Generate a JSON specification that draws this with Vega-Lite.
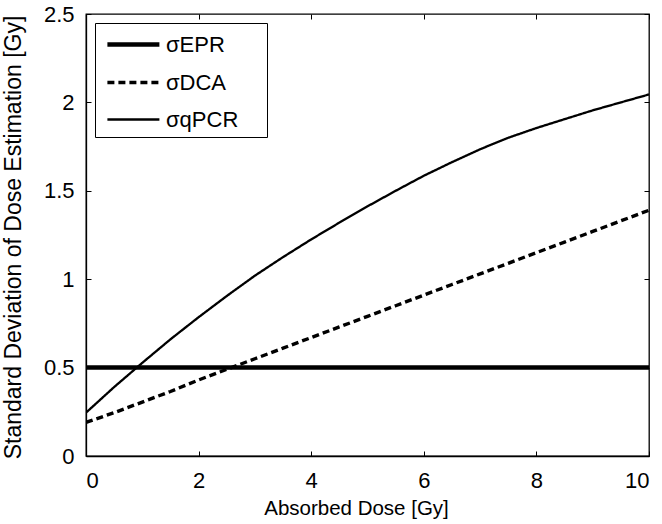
{
  "$schema": "https://vega.github.io/schema/vega-lite/v6.json",
  "width": 563,
  "height": 442,
  "autosize": {"type": "none"},
  "padding": {"left": 86, "top": 14, "right": 13, "bottom": 68},
  "background": "white",
  "config": {
    "font": "Liberation Sans",
    "view": {"stroke": "black", "strokeWidth": 1.3},
    "axis": {
      "grid": false,
      "domainColor": "black",
      "domainWidth": 1.3,
      "tickColor": "black",
      "tickWidth": 1,
      "tickSize": -5,
      "labelColor": "black",
      "labelFont": "Liberation Sans",
      "labelFontSize": 22,
      "titleColor": "black",
      "titleFont": "Liberation Sans",
      "titleFontWeight": "normal"
    },
    "legend": {
      "orient": "top-left",
      "offset": 9,
      "padding": 6,
      "strokeColor": "black",
      "fillColor": "white",
      "symbolType": "M-0.7,0H3.3",
      "symbolSize": 676,
      "symbolStrokeColor": "black",
      "labelFont": "Liberation Sans",
      "labelFontSize": 22,
      "labelColor": "black",
      "labelOffset": 34,
      "rowPadding": 11.5,
      "titleOrient": "right",
      "titleColor": "white",
      "titleFontSize": 16,
      "titleFontWeight": "normal",
      "titlePadding": 5
    }
  },
  "data": {
    "values": [
      {"series": "EPR", "dose": 0, "sd": 0.5},
      {"series": "EPR", "dose": 10, "sd": 0.5},
      {"series": "DCA", "dose": 0, "sd": 0.19},
      {"series": "DCA", "dose": 0.5, "sd": 0.245},
      {"series": "DCA", "dose": 1, "sd": 0.305},
      {"series": "DCA", "dose": 1.5, "sd": 0.365},
      {"series": "DCA", "dose": 2, "sd": 0.43},
      {"series": "DCA", "dose": 2.5, "sd": 0.49},
      {"series": "DCA", "dose": 3, "sd": 0.55},
      {"series": "DCA", "dose": 3.5, "sd": 0.61},
      {"series": "DCA", "dose": 4, "sd": 0.67},
      {"series": "DCA", "dose": 4.5, "sd": 0.73},
      {"series": "DCA", "dose": 5, "sd": 0.79},
      {"series": "DCA", "dose": 5.5, "sd": 0.85},
      {"series": "DCA", "dose": 6, "sd": 0.91},
      {"series": "DCA", "dose": 6.5, "sd": 0.97},
      {"series": "DCA", "dose": 7, "sd": 1.03},
      {"series": "DCA", "dose": 7.5, "sd": 1.09},
      {"series": "DCA", "dose": 8, "sd": 1.15},
      {"series": "DCA", "dose": 8.5, "sd": 1.21},
      {"series": "DCA", "dose": 9, "sd": 1.27},
      {"series": "DCA", "dose": 9.5, "sd": 1.33},
      {"series": "DCA", "dose": 10, "sd": 1.39},
      {"series": "qPCR", "dose": 0, "sd": 0.245},
      {"series": "qPCR", "dose": 0.5, "sd": 0.39},
      {"series": "qPCR", "dose": 1, "sd": 0.527},
      {"series": "qPCR", "dose": 1.5, "sd": 0.66},
      {"series": "qPCR", "dose": 2, "sd": 0.785},
      {"series": "qPCR", "dose": 2.5, "sd": 0.905},
      {"series": "qPCR", "dose": 3, "sd": 1.02},
      {"series": "qPCR", "dose": 3.5, "sd": 1.125},
      {"series": "qPCR", "dose": 4, "sd": 1.225},
      {"series": "qPCR", "dose": 4.5, "sd": 1.32},
      {"series": "qPCR", "dose": 5, "sd": 1.412},
      {"series": "qPCR", "dose": 5.5, "sd": 1.5},
      {"series": "qPCR", "dose": 6, "sd": 1.585},
      {"series": "qPCR", "dose": 6.5, "sd": 1.662},
      {"series": "qPCR", "dose": 7, "sd": 1.735},
      {"series": "qPCR", "dose": 7.5, "sd": 1.8},
      {"series": "qPCR", "dose": 8, "sd": 1.855},
      {"series": "qPCR", "dose": 8.5, "sd": 1.905},
      {"series": "qPCR", "dose": 9, "sd": 1.955},
      {"series": "qPCR", "dose": 9.5, "sd": 2.0},
      {"series": "qPCR", "dose": 10, "sd": 2.045}
    ]
  },
  "layer": [
    {
      "mark": {"type": "line", "strokeCap": "butt", "clip": true},
      "encoding": {
        "x": {
          "field": "dose", "type": "quantitative",
          "scale": {"domain": [0, 10], "nice": false, "zero": false},
          "axis": {"orient": "bottom", "values": [0, 2, 4, 6, 8, 10], "labelPadding": 19, "title": "Absorbed Dose [Gy]", "titleFontSize": 20.5, "titlePadding": 7, "titleX": 270}
        },
        "y": {
          "field": "sd", "type": "quantitative",
          "scale": {"domain": [0, 2.5], "nice": false},
          "axis": {"orient": "left", "values": [0, 0.5, 1, 1.5, 2, 2.5], "labelExpr": "'' + datum.value", "labelPadding": 17, "title": "Standard Deviation of Dose Estimation [Gy]", "titleFontSize": 23, "titleX": -61, "titleY": 223, "titleBaseline": "bottom"}
        },
        "color": {
          "field": "series", "type": "nominal",
          "scale": {"domain": ["EPR", "DCA", "qPCR"], "range": ["black", "black", "black"]},
          "legend": {"title": "__", "labelExpr": "'σ' + datum.label"}
        },
        "strokeDash": {
          "field": "series", "type": "nominal",
          "scale": {"domain": ["EPR", "DCA", "qPCR"], "range": [[1, 0], [7, 4], [1, 0]]},
          "legend": {"title": "__", "labelExpr": "'σ' + datum.label"}
        },
        "strokeWidth": {
          "field": "series", "type": "nominal",
          "scale": {"domain": ["EPR", "DCA", "qPCR"], "range": [4.5, 2.3, 2.3]},
          "legend": {"title": "__", "labelExpr": "'σ' + datum.label"}
        }
      }
    },
    {
      "mark": {"type": "line", "opacity": 0},
      "encoding": {
        "x": {
          "field": "dose", "type": "quantitative",
          "axis": {"orient": "top", "values": [0, 2, 4, 6, 8, 10], "labels": false, "title": null, "domain": false}
        },
        "y": {
          "field": "sd", "type": "quantitative",
          "axis": {"orient": "right", "values": [0, 0.5, 1, 1.5, 2, 2.5], "labels": false, "title": null, "domain": false}
        },
        "detail": {"field": "series", "type": "nominal"}
      }
    }
  ],
  "resolve": {"axis": {"x": "independent", "y": "independent"}}
}
